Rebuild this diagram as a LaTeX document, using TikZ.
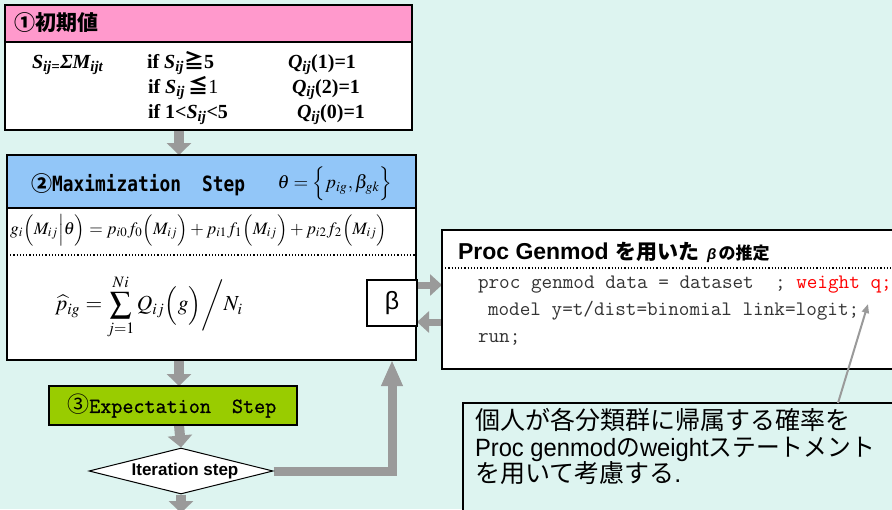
\documentclass[tikz,border=0pt]{standalone}
\usepackage{mathptmx}
\usepackage[no-math]{fontspec}
\usepackage{graphicx}
\usetikzlibrary{arrows.meta,shapes.geometric,calc}
\setmainfont{Liberation Serif}
\newfontfamily\jp{Noto Sans CJK JP}
\newfontfamily\arial{Liberation Sans}
\newfontfamily\gmono{DejaVu Sans Mono}[FakeStretch=0.85]
\newfontfamily\mmono{Latin Modern Mono}
\newfontfamily\mmonob{Latin Modern Mono}[FakeBold=1]
\newcommand\fsz[1]{\fontsize{#1}{#1}\selectfont}
\newcommand\sbs[1]{\textsubscript{#1}}
\definecolor{bgc}{HTML}{DDF4F0}
\definecolor{pinkc}{HTML}{FF99CC}
\definecolor{bluec}{HTML}{92C6F8}
\definecolor{greenc}{HTML}{99CC00}
\definecolor{arrowgray}{HTML}{9A9A9A}
\definecolor{codegray}{HTML}{333333}
\pgfdeclarelayer{back}
\pgfdeclarelayer{arrows}
\pgfsetlayers{back,arrows,main}
\tikzset{
  rect/.style={draw=black, line width=2pt, anchor=north west, inner sep=0pt, outer sep=0pt},
  txt/.style={anchor=base west, inner sep=0pt, outer sep=0pt},
  garrow/.style={draw=arrowgray, line width=10pt, -{Triangle[length=12pt,width=24pt]}},
  loopar/.style={draw=arrowgray, line width=9pt, -{Triangle[length=26pt,width=20pt]}},
  sidear/.style={draw=arrowgray, line width=7pt, -{Triangle[length=12pt,width=21pt]}},
  ptr/.style={draw=arrowgray, line width=2pt, -{Triangle[length=9pt,width=7pt]}},
  dots/.style={draw=black, line width=1.2pt, dotted},
}
\begin{document}
\begin{tikzpicture}[x=1pt,y=-1pt]
\begin{pgfonlayer}{back}
\fill[bgc] (0,0) rectangle (892,509);
\end{pgfonlayer}
\useasboundingbox (0,0) rectangle (892,509);

% ---------- Box 1 ----------
\node[rect, fill=pinkc, minimum width=407pt, minimum height=37pt] (b1head) at (5,5) {};
\node[rect, fill=white, minimum width=407pt, minimum height=88pt] (b1body) at (5,42) {};
\node[anchor=west, inner sep=0pt, font=\jp\bfseries\fsz{21}] (t1) at (14,23) {①初期値};
\node[txt, font=\fsz{20}] (s1) at (32,68) {\bfseries\itshape S\sbs{ij=}ΣM\sbs{ijt}};
\node[txt, font=\fsz{20}] (c21) at (147,68) {\bfseries if \textit{S}\sbs{\textit{ij}}{\jp\bfseries ≧}5};
\node[txt, font=\fsz{20}] (c22) at (148,93) {\bfseries if \textit{S}\sbs{\textit{ij}}\,{\jp ≦}\mdseries 1};
\node[txt, font=\fsz{20}] (c23) at (148,118) {\bfseries if 1<\textit{S}\sbs{\textit{ij}}<5};
\node[txt, font=\fsz{20}] (c31) at (288,68) {\bfseries\textit{Q}\sbs{\textit{ij}}(1)=1};
\node[txt, font=\fsz{20}] (c32) at (292,93) {\bfseries\textit{Q}\sbs{\textit{ij}}(2)=1};
\node[txt, font=\fsz{20}] (c33) at (297,118) {\bfseries\textit{Q}\sbs{\textit{ij}}(0)=1};

% ---------- Box 2 ----------
\node[rect, fill=bluec, minimum width=409pt, minimum height=53pt] (b2head) at (7,155) {};
\node[rect, fill=white, minimum width=409pt, minimum height=152pt] (b2body) at (7,208) {};
\node[anchor=west, inner sep=0pt] (t2) at (31,185) {{\jp\bfseries\fsz{21}②}{\gmono\bfseries\fsz{21}Maximization\hspace{21pt}Step}};
\node[inner sep=0pt] (theta) at (335,184) {\resizebox{115pt}{!}{$\theta=\Bigl\{p_{ig},\beta_{gk}\Bigr\}$}};
\node[anchor=west, inner sep=0pt] (gfor) at (10,230) {\resizebox{377pt}{!}{$g_i\Bigl(M_{ij}\Big|\theta\Bigr)= p_{i0}f_0\Bigl(M_{ij}\Bigr)+p_{i1}f_1\Bigl(M_{ij}\Bigr)+p_{i2}f_2\Bigl(M_{ij}\Bigr)$}};
\draw[dots] ([yshift=-47pt]b2body.north west) -- ([yshift=-47pt]b2body.north east);
\node[inner sep=0pt] (pfor) at (149,307) {\resizebox{188pt}{!}{$\displaystyle \widehat{p}_{ig} = \sum_{j=1}^{Ni} Q_{ij}\Bigl(g\Bigr)\bigg/N_i$}};
\node[rect, fill=white, minimum width=50pt, minimum height=46pt] (beta) at (367,280) {};
\node[inner sep=0pt, font=\arial\fsz{25}] (betatxt) at (beta.center) {β};

% ---------- Proc box ----------
\node[rect, fill=white, minimum width=470pt, minimum height=139pt] (proc) at (442,230) {};
\draw[dots] ([yshift=-38pt]proc.north west) -- ([yshift=-38pt]proc.north east);
\node[txt] (ptitle) at (458,259) {{\arial\bfseries\fsz{23}Proc Genmod }{\jp\bfseries\fsz{21}を用いた}\hspace{8pt}{\arial\bfseries\itshape\fsz{15}β}\hspace{2pt}{\jp\bfseries\fsz{17}の推定}};
\node[txt, font=\mmono\fsz{20.6}, text=codegray] (code1) at (478,288) {proc genmod data = dataset\ \ ; \textcolor{red}{weight q;}};
\node[txt, font=\mmono\fsz{20.6}, text=codegray] (code2) at (488,315) {model y=t/dist=binomial link=logit;};
\node[txt, font=\mmono\fsz{20.6}, text=codegray] (code3) at (478,342) {run;};

% ---------- Expectation ----------
\node[rect, fill=greenc, minimum width=248pt, minimum height=39pt] (exp) at (49,386) {};
\node[anchor=west, inner sep=0pt] (t3) at (67,406) {{\jp\fsz{22}③}{\mmonob\fsz{21.5}Expectation\hspace{21pt}Step}};

% ---------- Iteration diamond ----------
\node[diamond, draw=black, line width=1pt, fill=white, minimum width=184pt, minimum height=46pt, inner sep=0pt] (iter) at (181,471) {};
\node[inner sep=0pt, font=\arial\bfseries\fsz{17}] (itertxt) at (185,471) {Iteration step};

% ---------- Note ----------
\node[rect, fill=bgc, minimum width=450pt, minimum height=130pt] (note) at (463,403) {};
\node[txt, font=\fsz{25}] (n1) at (475,429) {\jp 個人が各分類群に帰属する確率を};
\node[txt, font=\fsz{25}] (n2) at (475,456) {\scalebox{0.95}[1]{{\arial Proc genmod}{\jp の}{\arial weight}{\jp ステートメント}}};
\node[txt, font=\fsz{25}] (n3) at (475,482) {{\jp を用いて考慮する}{\arial .}};

% ---------- Connectors ----------
\coordinate (colA) at (179,0);
\coordinate (colB) at (392,0);
\coordinate (exitpt) at (181,513);
\coordinate (r1) at ([yshift=-5pt]beta.north east);
\coordinate (r2) at ([yshift=4pt]beta.south east);
\coordinate (ptrtip) at (868,304);
\coordinate (ptrstart) at ([xshift=375pt]note.north west);
\begin{pgfonlayer}{arrows}
\draw[garrow] (colA |- b1body.south) -- (colA |- b2head.north);
\draw[garrow] (colA |- b2body.south) -- (colA |- exp.north);
\draw[garrow] (colA |- exp.south) -- (iter.north);
\draw[garrow] (iter.south) -- (exitpt);
\draw[loopar] (iter.east) -- (colB |- iter.east) -- (colB |- b2body.south);
\draw[sidear] (r1) -- (r1 -| proc.west);
\draw[sidear] (r2 -| proc.west) -- (r2);
\end{pgfonlayer}
\draw[ptr] (ptrstart) -- (ptrtip);
\end{tikzpicture}
\end{document}
